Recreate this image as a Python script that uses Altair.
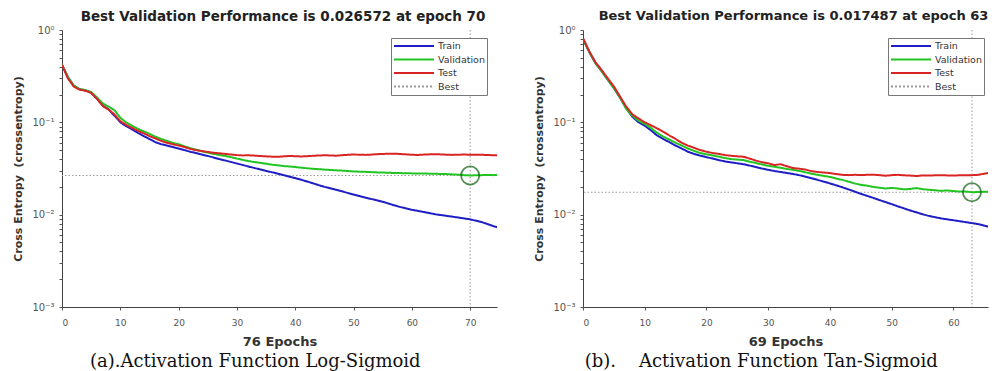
import altair as alt
import pandas as pd

# ---------------- Panel (a): Log-Sigmoid ----------------
epochs_a = list(range(77))
train_a = [0.42, 0.31, 0.25, 0.228, 0.222, 0.21, 0.18, 0.152, 0.138, 0.118,
           0.100, 0.091, 0.084, 0.077, 0.071, 0.066, 0.061, 0.058, 0.056, 0.054,
           0.052, 0.050, 0.048, 0.0465, 0.0448, 0.0432, 0.0416, 0.0400, 0.0386, 0.0372,
           0.0358, 0.0345, 0.0332, 0.0320, 0.0309, 0.0298, 0.0288, 0.0278, 0.0268, 0.0258,
           0.0249, 0.0239, 0.0229, 0.0219, 0.0209, 0.0200, 0.0193, 0.0186, 0.0179, 0.0172,
           0.0165, 0.0159, 0.0153, 0.0148, 0.0143, 0.0138, 0.0132, 0.0126, 0.0121, 0.0117,
           0.0113, 0.0110, 0.0107, 0.0104, 0.0101, 0.0099, 0.0097, 0.0095, 0.0093, 0.0091,
           0.0089, 0.0086, 0.0083, 0.0079, 0.0075, 0.0072, 0.0069]
val_a = [0.42, 0.31, 0.25, 0.23, 0.223, 0.213, 0.186, 0.160, 0.148, 0.135,
         0.112, 0.100, 0.092, 0.085, 0.080, 0.075, 0.070, 0.066, 0.063, 0.060,
         0.058, 0.055, 0.0526, 0.0505, 0.0485, 0.0470, 0.0455, 0.0443, 0.0432, 0.0420,
         0.0405, 0.0392, 0.0380, 0.0372, 0.0364, 0.0356, 0.0348, 0.0342, 0.0336, 0.0333,
         0.0328, 0.0323, 0.0318, 0.0314, 0.0311, 0.0308, 0.0305, 0.0302, 0.0300, 0.0297,
         0.0294, 0.0292, 0.0291, 0.0289, 0.0287, 0.0286, 0.0284, 0.0283, 0.0282, 0.0281,
         0.0280, 0.0280, 0.0279, 0.0278, 0.0277, 0.0276, 0.0275, 0.0273, 0.0271, 0.0268,
         0.026572, 0.0267, 0.0268, 0.0269, 0.0268, 0.0269, 0.0270]
test_a = [0.42, 0.30, 0.245, 0.226, 0.22, 0.208, 0.18, 0.150, 0.137, 0.122,
          0.103, 0.094, 0.087, 0.081, 0.076, 0.071, 0.067, 0.063, 0.060, 0.058,
          0.056, 0.054, 0.0515, 0.0500, 0.0488, 0.0478, 0.0468, 0.0462, 0.0455, 0.0448,
          0.0442, 0.0438, 0.0440, 0.0436, 0.0432, 0.0428, 0.0425, 0.0423, 0.0428, 0.0432,
          0.0430, 0.0427, 0.0430, 0.0434, 0.0437, 0.0440, 0.0438, 0.0435, 0.0440, 0.0445,
          0.0448, 0.0446, 0.0444, 0.0447, 0.0452, 0.0455, 0.0456, 0.0458, 0.0454, 0.0450,
          0.0446, 0.0443, 0.0447, 0.0450, 0.0452, 0.0449, 0.0446, 0.0444, 0.0446, 0.0448,
          0.0446, 0.0447, 0.0445, 0.0443, 0.0440, 0.0441, 0.0442]
best_epoch_a = 70
best_perf_a = 0.026572

# ---------------- Panel (b): Tan-Sigmoid ----------------
epochs_b = list(range(70))
train_b = [0.80, 0.58, 0.44, 0.36, 0.29, 0.235, 0.185, 0.142, 0.115, 0.100,
           0.092, 0.082, 0.072, 0.066, 0.061, 0.056, 0.052, 0.048, 0.0455, 0.0435,
           0.0420, 0.0405, 0.0390, 0.0377, 0.0368, 0.0360, 0.0352, 0.0340, 0.0328, 0.0316,
           0.0306, 0.0297, 0.0290, 0.0283, 0.0276, 0.0268, 0.0258, 0.0248, 0.0238, 0.0228,
           0.0218, 0.0208, 0.0198, 0.0188, 0.0178, 0.0168, 0.0160, 0.0152, 0.0144, 0.0137,
           0.0130, 0.0123, 0.0117, 0.0111, 0.0106, 0.0101, 0.0097, 0.0094, 0.0091, 0.0089,
           0.0087, 0.0085, 0.0083, 0.0081, 0.0079, 0.0076, 0.0073, 0.0070, 0.0067, 0.0064]
val_b = [0.80, 0.58, 0.44, 0.36, 0.29, 0.235, 0.185, 0.140, 0.118, 0.104,
         0.096, 0.087, 0.077, 0.070, 0.065, 0.060, 0.056, 0.052, 0.049, 0.0465,
         0.0450, 0.0438, 0.0425, 0.0410, 0.0400, 0.0395, 0.0390, 0.0375, 0.0362, 0.0350,
         0.0338, 0.0330, 0.0322, 0.0313, 0.0306, 0.0298, 0.0288, 0.0278, 0.0270, 0.0263,
         0.0256, 0.0246, 0.0238, 0.0228, 0.0218, 0.0210, 0.0206, 0.0200, 0.0196, 0.0192,
         0.0195, 0.0192, 0.0188, 0.0190, 0.0194, 0.0189, 0.0186, 0.0184, 0.0181, 0.0183,
         0.0180, 0.0178, 0.0178, 0.017487, 0.0176, 0.0177, 0.0178, 0.0177, 0.0176, 0.0177]
test_b = [0.82, 0.59, 0.45, 0.37, 0.30, 0.245, 0.19, 0.148, 0.122, 0.110,
          0.100, 0.093, 0.086, 0.079, 0.072, 0.066, 0.060, 0.056, 0.053, 0.050,
          0.0480, 0.0465, 0.0455, 0.0442, 0.0434, 0.0428, 0.0424, 0.0405, 0.0385, 0.0370,
          0.0360, 0.0345, 0.0352, 0.0335, 0.0320, 0.0315, 0.0308, 0.0296, 0.0290, 0.0286,
          0.0282, 0.0275, 0.0270, 0.0268, 0.0270, 0.0269, 0.0270, 0.0271, 0.0268, 0.0264,
          0.0268, 0.0270, 0.0267, 0.0265, 0.0262, 0.0266, 0.0265, 0.0267, 0.0268, 0.0266,
          0.0265, 0.0267, 0.0268, 0.0268, 0.0270, 0.0278, 0.0285, 0.0290, 0.0292, 0.0295]
best_epoch_b = 63
best_perf_b = 0.017487

series_names = ["Train", "Validation", "Test", "Best"]
series_colors = ["#1e1ec4", "#22c422", "#d92424", "#9a9a9a"]
series_dashes = [[1, 0], [1, 0], [1, 0], [2, 2]]

y_decades = [1, 0.1, 0.01, 0.001]
y_minor = [k * d for d in [0.1, 0.01, 0.001] for k in range(2, 10)]
label_expr = ("datum.value == 1 ? '10⁰' : datum.value == 0.1 ? '10⁻¹' : "
              "datum.value == 0.01 ? '10⁻²' : datum.value == 0.001 ? '10⁻³' : ''")

FONT = "DejaVu Sans"
H = 277


def panel(epochs, train, val, test, best_ep, best_val, xmax, width, xticks,
          xtitle, title, legend_x, title_dx, title_size):
    n = len(epochs)
    df = pd.DataFrame({
        "epoch": epochs * 3,
        "value": train + val + test,
        "series": ["Train"] * n + ["Validation"] * n + ["Test"] * n,
    })
    best_df = pd.DataFrame({"epoch": [best_ep], "value": [best_val]})

    x = alt.X("epoch:Q",
              scale=alt.Scale(domain=[0, xmax], nice=False, zero=False),
              axis=alt.Axis(values=xticks, title=xtitle, grid=False,
                            labelFontSize=9, labelColor="#555", labelFont=FONT,
                            tickSize=3, tickColor="#555", domainColor="#444",
                            labelPadding=8, titlePadding=8, titleFont=FONT,
                            titleFontSize=13, titleFontWeight="bold",
                            titleColor="#333"))
    y = alt.Y("value:Q",
              scale=alt.Scale(type="log", domain=[0.001, 1], nice=False),
              axis=alt.Axis(values=y_decades + y_minor, labelExpr=label_expr,
                            labelOverlap=False, title="Cross Entropy\u00a0\u00a0(crossentropy)",
                            grid=False, labelFontSize=10, labelColor="#555",
                            labelFont=FONT, tickSize=3, tickColor="#555",
                            domainColor="#444", labelPadding=5, titlePadding=8,
                            titleFont=FONT, titleFontSize=11, titleFontWeight="bold",
                            titleColor="#333"))

    leg = alt.Legend(orient="none", legendX=legend_x, legendY=8, title=None,
                     symbolType="stroke", symbolSize=1600, symbolStrokeWidth=2,
                     clipHeight=12, labelFontSize=9.5, labelFont=FONT,
                     labelColor="#333", fillColor="white", strokeColor="#777",
                     padding=2, rowPadding=1.5, labelOffset=3)

    lines = alt.Chart(df).mark_line(strokeWidth=2, clip=True).encode(
        x=x, y=y,
        color=alt.Color("series:N", scale=alt.Scale(domain=series_names, range=series_colors),
                        legend=leg),
        strokeDash=alt.StrokeDash("series:N",
                                  scale=alt.Scale(domain=series_names, range=series_dashes),
                                  legend=leg),
    )
    hrule = alt.Chart(best_df).mark_rule(color="#9a9a9a", strokeDash=[1.5, 2],
                                         strokeWidth=1).encode(y="value:Q")
    vrule = alt.Chart(best_df).mark_rule(color="#9a9a9a", strokeDash=[1.5, 2],
                                         strokeWidth=1).encode(x="epoch:Q")
    circ = alt.Chart(best_df).mark_point(shape="circle", size=330, filled=False,
                                         color="#0b5e0b", strokeWidth=1.8).encode(
        x="epoch:Q", y="value:Q")

    return alt.layer(hrule, vrule, lines, circ).properties(
        width=width, height=H,
        title=alt.TitleParams(title, anchor="middle", frame="group", fontSize=title_size,
                              fontWeight="bold", font=FONT, color="#222", offset=2,
                              dx=title_dx),
    )


pa = panel(epochs_a, train_a, val_a, test_a, best_epoch_a, best_perf_a,
           74.6, 435, [0, 10, 20, 30, 40, 50, 60, 70], "76 Epochs",
           "Best Validation Performance is 0.026572 at epoch 70", 329, 3.5, 13.5)
pb = panel(epochs_b, train_b, val_b, test_b, best_epoch_b, best_perf_b,
           65.6, 405, [0, 10, 20, 30, 40, 50, 60], "69 Epochs",
           "Best Validation Performance is 0.017487 at epoch 63", 305, 8, 13)

cap_a = "(a).Activation Function Log-Sigmoid"
cap_b = "(b).\u00a0\u00a0\u00a0\u00a0Activation Function Tan-Sigmoid"


def wrap(p, caption):
    return alt.vconcat(p).properties(
        title=alt.TitleParams(caption, orient="bottom", anchor="middle", frame="bounds",
                              font="DejaVu Serif", fontSize=18, fontWeight="normal",
                              color="#111", offset=5))


chart = alt.hconcat(wrap(pa, cap_a), wrap(pb, cap_b), spacing=35).resolve_scale(
    color="independent", strokeDash="independent", x="independent"
).resolve_legend(color="independent", strokeDash="independent").configure_view(
    stroke=None
).properties(padding={"left": 4, "top": 1, "right": 0, "bottom": 0})

chart.save("out.html", embed_options={"renderer": "svg", "actions": False})
